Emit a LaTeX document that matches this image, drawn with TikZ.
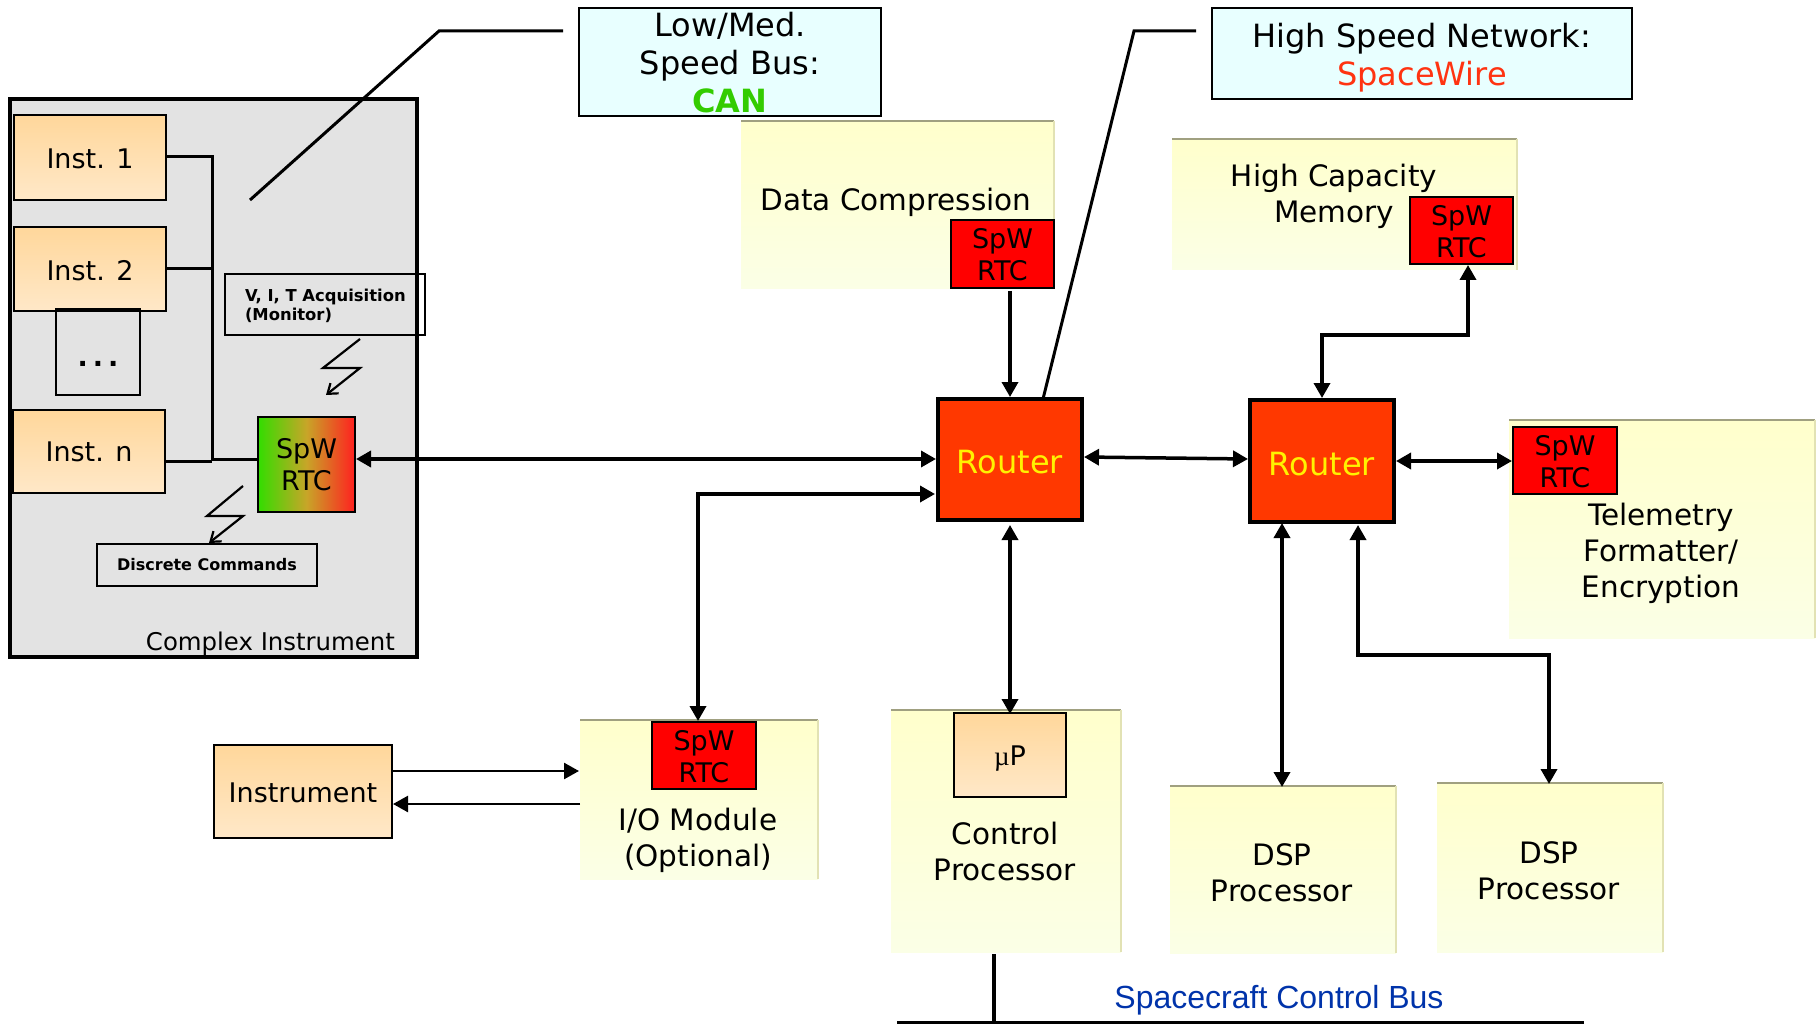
\documentclass[tikz,border=0pt]{standalone}
\usepackage{fontspec}
\setmainfont{DejaVu Sans}
\newfontfamily\liber{Liberation Sans}
\newfontfamily\libserif{Liberation Serif}
\usetikzlibrary{arrows.meta}
\definecolor{instTop}{HTML}{FFD79B}
\definecolor{instBot}{HTML}{FFE8C8}
\definecolor{yelTop}{HTML}{FFFFCC}
\definecolor{yelBot}{HTML}{FBFFE6}
\definecolor{rtcRed}{HTML}{FF0000}
\definecolor{rtGreen}{HTML}{33DD00}
\definecolor{rtMid}{HTML}{C8A528}
\definecolor{rtRed}{HTML}{FF2020}
\definecolor{routerFill}{HTML}{FF3800}
\definecolor{panel}{HTML}{E3E3E3}
\definecolor{callout}{HTML}{E8FFFF}
\definecolor{edgeTop}{HTML}{A0A080}
\definecolor{edgeRight}{HTML}{E2E2B4}
\newcommand{\bx}[7][]{%
  \pgfmathsetmacro{\bxcx}{(#3+#5)/2}\pgfmathsetmacro{\bxcy}{(#4+#6)/2}%
  \pgfmathsetmacro{\bxw}{#5-#3}\pgfmathsetmacro{\bxh}{#6-#4}%
  \node[#1,minimum width=\bxw pt,minimum height=\bxh pt] (#2) at (\bxcx,\bxcy) {#7};}
\newcommand{\dn}[2]{\raisebox{-#1}[\height][\depth]{#2}}
\tikzset{
  every node/.style={inner sep=0pt,outer sep=0pt,align=center,font=\fontsize{27}{32}\selectfont},
  inst/.style={draw=black,line width=2.8pt,top color=instTop,bottom color=instBot},
  yel/.style={top color=yelTop,bottom color=yelBot},
  rtc/.style={draw=black,line width=2.8pt,fill=rtcRed},
  router/.style={draw=black,line width=4.5pt,fill=routerFill,text=yellow,font=\fontsize{32}{36}\selectfont},
  plainbox/.style={draw=black,line width=2.8pt},
  callbox/.style={draw=black,line width=2.8pt,fill=callout,font=\fontsize{32}{38}\selectfont},
  bigtext/.style={font=\fontsize{29.5}{36}\selectfont},
  small/.style={font=\fontsize{16.4}{19}\bfseries\selectfont},
  link/.style={line width=3.5pt,{Triangle[length=15pt,width=16pt]}-{Triangle[length=15pt,width=16pt]}},
  linkone/.style={line width=3.5pt,-{Triangle[length=15pt,width=16pt]}},
  thinlink/.style={line width=2.5pt,-{Triangle[length=15pt,width=16pt]}},
  wire/.style={line width=3pt},
  bolt/.style={line width=2.2pt,-{Straight Barb[length=9pt,width=13pt]}},
}
\begin{document}
\begin{tikzpicture}[x=1pt,y=-1pt]
\useasboundingbox (0,0) rectangle (1820,1024);
% panels
\bx[draw=black,line width=3.5pt,fill=panel]{panelci}{10}{99}{417}{657}{}
\bx[yel]{ydata}{741}{121}{1054}{289}{}
\bx[yel]{yhcm}{1172}{139}{1517}{270}{}
\bx[yel]{ytlm}{1509}{420}{1815}{638}{}
\bx[yel]{yio}{580}{720}{818}{879}{}
\bx[yel]{yctl}{891}{710}{1121}{952}{}
\bx[yel]{ydsp}{1170}{786}{1396}{953}{}
\bx[yel]{ydspb}{1437}{783}{1663}{952}{}
\foreach \n in {ydata,yhcm,ytlm,yio,yctl,ydsp,ydspb}{
  \draw[edgeTop,line width=1.5pt] (\n.north west) -- (\n.north east);
  \draw[edgeRight,line width=1.5pt] (\n.north east) -- (\n.south east);
}
% callouts
\bx[callbox]{can}{579}{8}{881}{116}{\dn{1pt}{Low/Med.}\\\dn{1pt}{Speed Bus:}\\\dn{1pt}{\color[HTML]{33CC00}\bfseries CAN}}
\bx[callbox]{spw}{1212}{8}{1632}{99}{\dn{4.5pt}{High Speed Network:}\\\dn{4.5pt}{\color[HTML]{FF3311}SpaceWire}}
\coordinate (calla) at (250,200);
\coordinate (callb) at (439,31);
\coordinate (callc) at (563,31);
\draw[wire] (calla) -- (callb) -- (callc);
% instruments
\bx[inst]{i1}{14}{115}{166}{200}{\dn{1pt}{Inst. 1}}
\bx[inst]{i2}{14}{227}{166}{311}{\dn{2pt}{Inst. 2}}
\bx[plainbox]{dots}{56}{309}{140}{395}{\dn{12pt}{\bfseries .\hspace{5pt}.\hspace{5pt}.}}
\bx[inst]{in}{13}{410}{165}{493}{Inst. n}
\bx[draw=black,line width=2.8pt,left color=rtGreen,right color=rtRed,middle color=rtMid]{rtcm}{258}{417}{355}{512}{SpW\\RTC}
\bx[plainbox]{vit}{225}{274}{425}{335}{}
\node[small,align=left,anchor=west] (vittext) at (245,306) {V, I, T Acquisition\\(Monitor)};
\bx[plainbox,font=\fontsize{16}{19}\bfseries\selectfont]{disc}{97}{544}{317}{586}{Discrete Commands}
\node[anchor=east,font=\fontsize{24.4}{30}\selectfont] (citext) at (395,644) {Complex Instrument};
\coordinate (busT) at (212,157);
\coordinate (busB) at (212,459);
\draw[wire] (i1.east |- busT) -- (busT) -- (busB) -- (rtcm.west |- busB);
\draw[wire] (i2.east) -- (i2.east -| busT);
\draw[wire] (in.east |- 0,461) -- (212,461);
% bolts
\coordinate (b1a) at (360,339); \coordinate (b1b) at (323,368); \coordinate (b1c) at (360,368); \coordinate (b1d) at (326,395);
\draw[bolt] (b1a) -- (b1b) -- (b1c) -- (b1d);
\coordinate (b2a) at (243,486); \coordinate (b2b) at (207,516); \coordinate (b2c) at (243,516); \coordinate (b2d) at (209,543);
\draw[bolt] (b2a) -- (b2b) -- (b2c) -- (b2d);
% routers and RTCs
\bx[router]{ra}{938}{399}{1082}{520}{\dn{3pt}{Router}}
\bx[router]{rb}{1250}{400}{1394}{522}{\dn{3pt}{Router}}
\bx[rtc]{rtcd}{951}{220}{1054}{288}{\dn{1pt}{SpW}\\\dn{1pt}{RTC}}
\bx[rtc]{rtch}{1410}{197}{1513}{264}{\dn{1pt}{SpW}\\\dn{1pt}{RTC}}
\bx[rtc]{rtct}{1513}{427}{1617}{494}{\dn{1pt}{SpW}\\\dn{1pt}{RTC}}
\bx[rtc]{rtci}{652}{722}{756}{789}{\dn{1pt}{SpW}\\\dn{1pt}{RTC}}
\bx[inst]{up}{954}{713}{1066}{797}{\dn{4pt}{{\libserif µ}P}}
\bx[inst]{instr}{214}{745}{392}{838}{\dn{1pt}{Instrument}}
% second callout line from the first router
\coordinate (spwa) at (1134,31);
\coordinate (spwb) at (1196,31);
\draw[wire] ([xshift=33pt]ra.north) -- (spwa) -- (spwb);
% text in yellow boxes
\node[bigtext] (tdata) at (896,202) {Data Compression};
\node[bigtext] (thcm) at (1334,196.5) {High Capacity\\Memory};
\node[bigtext] (ttlm) at (1661,553.5) {Telemetry\\Formatter/\\Encryption};
\node[bigtext] (tio) at (698,840.5) {I/O Module\\(Optional)};
\node[bigtext] (tctl) at (1005,851) {Control\\Processor};
\node[bigtext] (tdsp) at (1282,873) {DSP\\Processor};
\node[bigtext] (tdspb) at (1549,871) {DSP\\Processor};
\node[text={rgb,255:red,0;green,51;blue,170},font=\liber\fontsize{32}{36}\selectfont] (tbus) at (1279,1000) {Spacecraft Control Bus};
% connectors
\draw[link] ([xshift=1pt]rtcm.east |- 0,459) -- ([xshift=-2pt]ra.west |- 0,459);
\coordinate (ioturn) at (698,494);
\draw[link] ([xshift=-3pt]ra.west |- ioturn) -- (ioturn) -- ([yshift=1pt]rtci.north -| ioturn);
\draw[linkone] ([yshift=-3pt]rtcd.south -| ra.north) -- ([yshift=2pt]ra.north);
\draw[link] ([yshift=-5pt]ra.south) -- ([yshift=-1pt]up.north);
\draw[link] ([xshift=2pt]ra.east |- 0,457) -- ([xshift=-2pt]rb.west |- 0,459);
\coordinate (ha) at (1322,335);
\coordinate (hb) at (1468,335);
\draw[link] ([yshift=2pt]rb.north) -- (ha) -- (hb) -- ([yshift=-1pt]rtch.south -| hb);
\draw[link] ([xshift=2pt]rb.east |- 0,461) -- ([xshift=-1pt]rtct.west |- 0,461);
\draw[link] ([yshift=-1pt]rb.south -| 1282,0) -- ([yshift=-1pt]ydsp.north -| 1282,0);
\coordinate (da) at (1358,655);
\coordinate (db) at (1549,655);
\draw[link] ([yshift=-3pt]rb.south -| da) -- (da) -- (db) -- ([yshift=-1pt]ydspb.north -| db);
\draw[thinlink] (instr.east |- 0,771) -- ([xshift=-1pt]yio.west |- 0,771);
\draw[thinlink] (yio.west |- 0,804) -- ([xshift=1pt]instr.east |- 0,804);
% bus
\coordinate (busL) at (897,1022);
\coordinate (busR) at (1584,1022);
\coordinate (busJ) at (994,1022);
\draw[line width=3.5pt] ([yshift=-2pt]yctl.south -| busJ) -- (busJ);
\draw[line width=3pt] (busL) -- (busR);
\end{tikzpicture}
\end{document}
